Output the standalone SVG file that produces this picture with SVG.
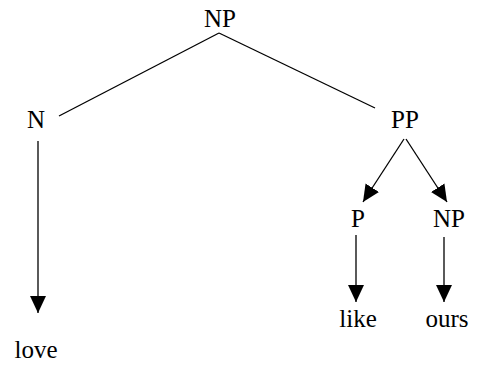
<svg xmlns="http://www.w3.org/2000/svg" width="478" height="365" viewBox="0 0 478 365">
<style>
text{font-family:"Liberation Serif","Times New Roman",serif;font-size:25px;fill:#000;text-anchor:middle}
.e{stroke:#000;stroke-width:1.3;fill:none}
</style>
<defs>
<marker id="ah" markerUnits="userSpaceOnUse" markerWidth="18" markerHeight="18" viewBox="0 0 18 18" refX="17" refY="9" orient="auto">
<polygon points="0,1 17,9 0,17" fill="#000"/>
</marker>
</defs>
<rect width="478" height="365" fill="#fff"/>
<g id="edges">
<line class="e" x1="219" y1="33" x2="59" y2="116"/>
<line class="e" x1="219" y1="33" x2="375" y2="108"/>
<line class="e" x1="38" y1="141" x2="38" y2="313" marker-end="url(#ah)"/>
<line class="e" x1="404" y1="139" x2="363" y2="202" marker-end="url(#ah)"/>
<line class="e" x1="406" y1="139" x2="447" y2="202" marker-end="url(#ah)"/>
<line class="e" x1="356" y1="235" x2="356" y2="302" marker-end="url(#ah)"/>
<line class="e" x1="444" y1="237" x2="444" y2="302" marker-end="url(#ah)"/>
</g>
<g id="n-np"><text x="220" y="27">NP</text></g>
<g id="n-n"><text x="36" y="128">N</text></g>
<g id="n-pp"><text x="405" y="128">PP</text></g>
<g id="n-p"><text x="358" y="227">P</text></g>
<g id="n-np2"><text x="449" y="227">NP</text></g>
<g id="n-love"><text x="36" y="358">love</text></g>
<g id="n-like"><text x="358" y="327">like</text></g>
<g id="n-ours"><text x="447" y="327">ours</text></g>
</svg>
